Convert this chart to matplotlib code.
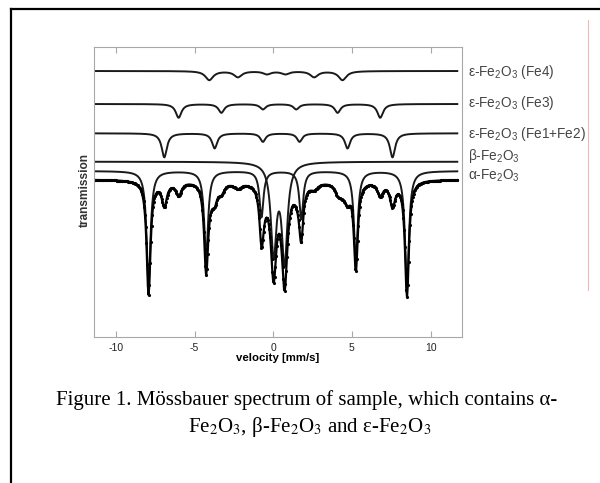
import numpy as np
import matplotlib
matplotlib.use('Agg')
import matplotlib.pyplot as plt
from matplotlib.lines import Line2D

plt.rcParams['font.family'] = 'Liberation Sans'
plt.rcParams['mathtext.fontset'] = 'custom'
plt.rcParams['mathtext.rm'] = 'Liberation Sans'
plt.rcParams['mathtext.it'] = 'Liberation Sans:italic'
plt.rcParams['mathtext.bf'] = 'Liberation Sans:bold'
plt.rcParams['axes.unicode_minus'] = False

# --------------------------------------
# Sub-spectra: line positions [mm/s], depths, half widths
# --------------------------------------
fe4_pos = [-4.07, -2.25, -0.40, 0.77, 2.60, 4.40]
fe4_depth = [9, 6, 3, 3, 6, 9]
fe4_hw = 0.30

fe3_pos = [-6.02, -3.30, -0.66, 1.46, 4.09, 6.80]
fe3_depth = [13.7, 8.7, 5.3, 5.3, 8.7, 13.7]
fe3_hw = 0.22

fe12_pos = [-6.93, -3.73, -0.66, 1.67, 4.72, 7.58]
fe12_depth = [24, 15, 8.4, 8.4, 15, 24]
fe12_hw = 0.20

beta_pos = [0.02, 0.72]
beta_depth = [90, 98]
beta_hw = 0.21

alpha_pos = [-7.93, -4.27, -0.75, 1.78, 5.25, 8.50]
alpha_depth = [114, 86, 46, 48, 88, 116]
alpha_hw = 0.15

# baselines of the stacked curves
base_fe4 = 266
base_fe3 = 233
base_fe12 = 203.7
base_beta = 175.3
base_alpha = 166
base_data = 157.5

labels = [r'ε-Fe$_2$O$_3$ (Fe4)', r'ε-Fe$_2$O$_3$ (Fe3)', r'ε-Fe$_2$O$_3$ (Fe1+Fe2)',
          r'β-Fe$_2$O$_3$', r'α-Fe$_2$O$_3$']
label_y = [265.3, 233.7, 203, 181.3, 161.3]

v = np.linspace(-11.4, 11.7, 500)
vs = np.linspace(-11.4, 11.7, 2000)


def absorb(x, pos, depth, hw):
    a = np.zeros_like(x)
    for p, d in zip(pos, depth):
        a += d * hw**2 / ((x - p)**2 + hw**2)
    return a


comps = [(fe4_pos, fe4_depth, fe4_hw, base_fe4),
         (fe3_pos, fe3_depth, fe3_hw, base_fe3),
         (fe12_pos, fe12_depth, fe12_hw, base_fe12),
         (beta_pos, beta_depth, beta_hw, base_beta),
         (alpha_pos, alpha_depth, alpha_hw, base_alpha)]

fig = plt.figure(figsize=(6, 4.83), dpi=100)
ax = fig.add_axes([94/600, 1 - 337/483, 368/600, 290/483])

total = np.zeros_like(v)
for pos, dep, hw, base in comps:
    ax.plot(vs, base - absorb(vs, pos, dep, hw), '-', color='#1a1a1a', lw=1.4)
    total += absorb(v, pos, dep, hw)

data = base_data - total
ax.plot(v, data, '-', color='black', lw=1.6)
ax.plot(v, data, '.', color='black', ms=2.5)

for lab, y in zip(labels, label_y):
    ax.text(12.35, y, lab, fontsize=9.8, color='#444444', va='center', ha='left',
            clip_on=False)

ax.set_xlim(-11.4, 12.0)
ax.set_ylim(0, 290)
ax.set_xticks([-10, -5, 0, 5, 10])
ax.set_yticks([])
for s in ax.spines.values():
    s.set_color('#a8a8a8')
    s.set_linewidth(0.8)
ax.tick_params(axis='x', direction='in', length=4, width=0.8, color='#a8a8a8',
               top=True, labelsize=7.5, pad=4, labelcolor='#222222')
ax.set_xlabel('velocity [mm/s]', fontsize=8.2, fontweight='bold', labelpad=0.5)
fig.text(85/600, 1 - 190/483, 'transmission', rotation=90, fontsize=8.6,
         fontweight='bold', ha='center', va='center', color='#333333')

# caption
fig.text(307/600, 1 - 400/483, 'Figure 1. Mössbauer spectrum of sample, which contains α-',
         family='Liberation Serif', fontsize=15, ha='center', va='center')
fig.text(310/600, 1 - 427/483, r'Fe$_2$O$_3$, β-Fe$_2$O$_3$ and ε-Fe$_2$O$_3$',
         family='Liberation Serif', math_fontfamily='stix', fontsize=15,
         ha='center', va='center')

# page frame and margin line
fig.add_artist(Line2D([11/600, 11/600], [0, 1 - 9/483], color='black', lw=1.6))
fig.add_artist(Line2D([11/600, 1], [1 - 9/483, 1 - 9/483], color='black', lw=1.6))
fig.add_artist(Line2D([588/600, 588/600], [1 - 290/483, 1 - 20/483], color='#f2b8b8', lw=0.8))

plt.savefig('out.png', dpi=100)
